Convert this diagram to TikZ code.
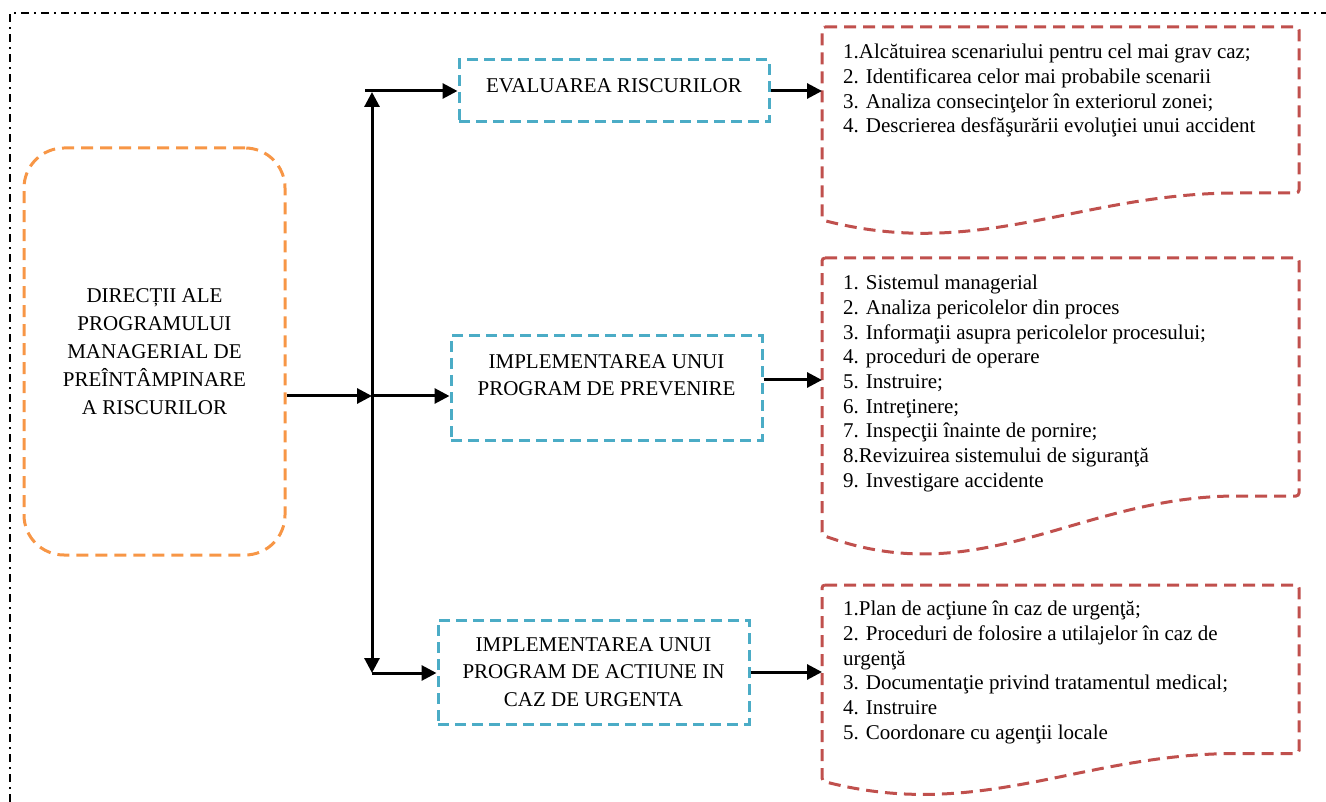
\documentclass[tikz,border=0pt]{standalone}
\usepackage{fontspec}
\setmainfont{Liberation Serif}
\usetikzlibrary{arrows.meta}
\definecolor{accblue}{RGB}{75,172,198}
\definecolor{accred}{RGB}{192,80,77}
\definecolor{accorange}{RGB}{247,150,70}
\begin{document}
\begin{tikzpicture}[x=1pt,y=-1pt,
 frame/.style={line width=1.8pt, dash pattern=on 8pt off 5pt on 2pt off 5pt},
 orangebox/.style={draw=accorange, line width=3pt, dash pattern=on 12pt off 7pt, rounded corners=40pt, minimum width=261pt, minimum height=407pt, inner sep=0, align=center, font=\fontsize{21}{28}\selectfont},
 bluebox/.style={draw=accblue, line width=3pt, dash pattern=on 11pt off 6pt, inner sep=0},
 redline/.style={draw=accred, line width=3pt, dash pattern=on 12pt off 7pt, rounded corners=3pt},
 redghost/.style={draw=none, minimum width=477pt, inner sep=0, anchor=north west},
 bluetext/.style={font=\fontsize{21}{27.5}\selectfont, align=center, inner sep=0, anchor=north},
 redtext/.style={font=\fontsize{21}{24.7}\selectfont, align=left, inner sep=0, anchor=north west},
 arr/.style={line width=3pt, -{Triangle[length=15pt,width=15pt]}}
]
\useasboundingbox (0,0) rectangle (1326,802);
% outer frame
\draw[frame] (10,802) -- (10,13) -- (1326,13);

% left box
\node[orangebox] (dir) at (154.5,351.5) {DIRECȚII ALE\\PROGRAMULUI\\MANAGERIAL DE\\PREÎNTÂMPINARE\\A RISCURILOR};

% blue boxes
\node[bluebox, minimum width=310pt, minimum height=62pt] (b1) at (614,91) {};
\node[bluetext] (b1t) at (614,78) {EVALUAREA RISCURILOR};
\node[bluebox, minimum width=311pt, minimum height=104pt] (b2) at (606.5,388) {};
\node[bluetext] (b2t) at (606.5,354) {IMPLEMENTAREA UNUI\\PROGRAM DE PREVENIRE};
\node[bluebox, minimum width=311pt, minimum height=104pt] (b3) at (593.5,672) {};
\node[bluetext] (b3t) at (593.5,637) {IMPLEMENTAREA UNUI\\PROGRAM DE ACTIUNE IN\\CAZ DE URGENTA};

% red document boxes
\node[redghost, minimum height=193pt] (r1) at (822,27) {};
\node[redghost, minimum height=277pt] (r2) at (822,258) {};
\node[redghost, minimum height=196pt] (r3) at (822,585) {};
\draw[redline] (822,27) -- (1299,27) -- (1299,193) -- (1240,193) .. controls (1080,193) and (980,260.5) .. (822,220) -- cycle;
\draw[redline] (822,258) -- (1299,258) -- (1299,496) -- (1240,496) .. controls (1080,496) and (980,593) .. (822,535) -- cycle;
\draw[redline] (822,585) -- (1299,585) -- (1299,753.5) -- (1240,753.5) .. controls (1080,753.5) and (980,822) .. (822,781) -- cycle;

\node[redtext] (r1t) at (843,44) {1.Alcătuirea scenariului pentru cel mai grav caz;\\2. Identificarea celor mai probabile scenarii\\3. Analiza consecinţelor în exteriorul zonei;\\4. Descrierea desfăşurării evoluţiei unui accident};
\node[redtext] (r2t) at (843,275) {1. Sistemul managerial\\2. Analiza pericolelor din proces\\3. Informaţii asupra pericolelor procesului;\\4. proceduri de operare\\5. Instruire;\\6. Intreţinere;\\7. Inspecţii înainte de pornire;\\8.Revizuirea sistemului de siguranţă\\9. Investigare accidente};
\node[redtext] (r3t) at (843,601) {1.Plan de acţiune în caz de urgenţă;\\2. Proceduri de folosire a utilajelor în caz de\\urgenţă\\3. Documentaţie privind tratamentul medical;\\4. Instruire\\5. Coordonare cu agenţii locale};

% connectors
\coordinate (j) at (372,396);
\coordinate (tc) at (372,92);
\coordinate (tl) at (365,91);
\coordinate (bc) at (372,673);
\draw[arr] (dir.east |- j) -- (j);
\draw[arr] (j) -- (j -| b2.west);
\draw[arr] (j) -- (tc);
\draw[arr] (tl) -- (tl -| b1.west);
\draw[arr] (j) -- (bc);
\draw[arr] (bc) -- (bc -| b3.west);
\draw[arr] (b1.east) -- (b1.east -| r1.west);
\draw[arr] ([yshift=8pt]b2.east) -- ([yshift=8pt]b2.east -| r2.west);
\draw[arr] (b3.east) -- (b3.east -| r3.west);
\end{tikzpicture}
\end{document}
